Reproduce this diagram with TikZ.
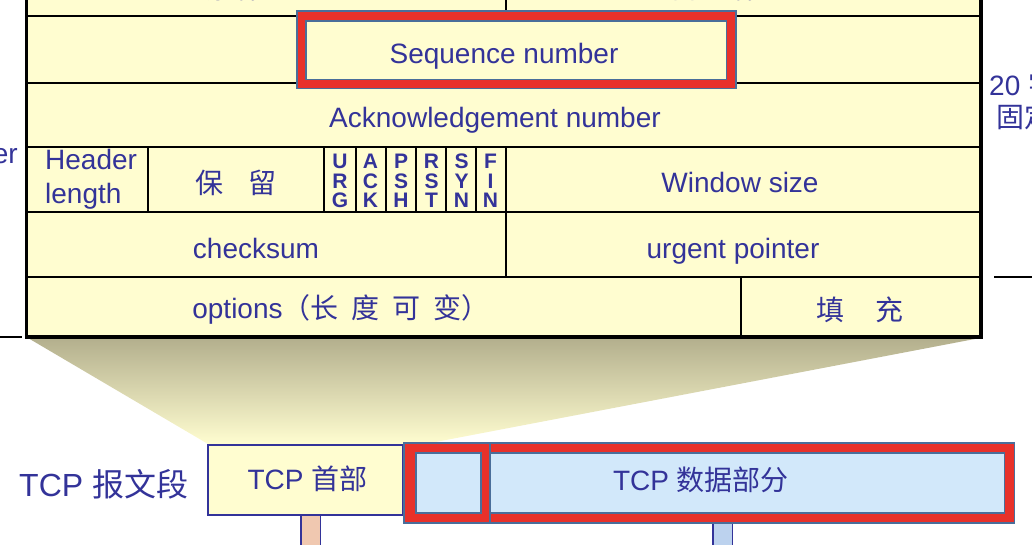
\documentclass[tikz,border=0pt]{standalone}
\usepackage{fontspec}
\setmainfont{Liberation Sans}
\newfontfamily\cjk{Noto Sans CJK SC}
\definecolor{navy}{HTML}{333399}
\definecolor{tblfill}{HTML}{FFFDD0}
\definecolor{redf}{HTML}{E8312A}
\definecolor{steel}{HTML}{4A6E9A}
\definecolor{lblue}{HTML}{D2E8FA}
\definecolor{pinkbar}{HTML}{F0C8B0}
\definecolor{bluebar}{HTML}{BCD2EE}
\definecolor{shadetop}{HTML}{B3AF8D}
\definecolor{shademid}{HTML}{E4E2BD}
\begin{document}
\begin{tikzpicture}[x=1pt,y=-1pt,
  lbl/.style={text=navy, inner sep=0pt, font=\fontsize{28}{34}\selectfont},
  biglbl/.style={text=navy, inner sep=0pt, font=\fontsize{32}{38}\selectfont},
  flagtxt/.style={text=navy, inner sep=0pt, align=center, font=\bfseries\fontsize{21}{19.5}\selectfont},
  gridline/.style={line width=2pt, black},
  frameline/.style={line width=3.6pt, black},
  barbox/.style={draw=navy, line width=1.3pt}]
\useasboundingbox (0,0) rectangle (1032,544);
% funnel shading
\shade[top color=shadetop, middle color=shademid, bottom color=tblfill]
  (28,338) -- (980,338) -- (425,444) -- (208,444) -- cycle;
% table body
\fill[tblfill] (26,-5) rectangle (981,337);
\foreach \yy in {16,83,147,212,277} \draw[gridline] (26,\yy) -- (981,\yy);
\draw[gridline] (506,-5) -- (506,16);
\draw[gridline] (148,147) -- (148,212);
\foreach \xx in {324,356,386,416,446,476,506} \draw[gridline] (\xx,147) -- (\xx,212);
\draw[gridline] (506,212) -- (506,277);
\draw[gridline] (741,277) -- (741,337);
\draw[frameline] (26.5,-5) -- (26.5,337) -- (981,337) -- (981,-5);
% side lines
\draw[gridline] (0,337) -- (22,337);
\draw[gridline] (994,277) -- (1032,277);
% sequence number highlight frame
\fill[steel] (296,10) rectangle (736.5,89);
\fill[redf] (297.5,11.5) rectangle (735,87.5);
\fill[steel] (305,20) rectangle (727,80);
\fill[tblfill] (306.5,21.5) rectangle (725.5,78.5);
% cut-off texts at the top
\node[lbl, anchor=base] (src) at (243,-1.5) {\cjk 源端口};
\node[lbl, anchor=base] (dst) at (726,-1.5) {\cjk 目的端口};
% table texts
\node[lbl, anchor=base] (seq) at (504,63) {Sequence number};
\node[lbl, anchor=base] (ack) at (495,127) {Acknowledgement number};
\node[lbl, anchor=base west] (hl1) at (45,169) {Header};
\node[lbl, anchor=base west] (hl2) at (45,203) {length};
\node[lbl, anchor=center] (rsv) at (236,183) {\cjk 保\hspace{25pt}留};
\node[flagtxt] (urg) at (340,181) {U\\R\\G};
\node[flagtxt] (fack) at (370.5,181) {A\\C\\K};
\node[flagtxt] (psh) at (401,181) {P\\S\\H};
\node[flagtxt] (rst) at (431.5,181) {R\\S\\T};
\node[flagtxt] (syn) at (461.5,181) {S\\Y\\N};
\node[flagtxt] (fin) at (490.5,181) {F\\I\\N};
\node[lbl, anchor=base] (win) at (740,192) {Window size};
\node[lbl, anchor=base] (chk) at (256,258) {checksum};
\node[lbl, anchor=base] (urgp) at (733,258) {urgent pointer};
\node[lbl, anchor=base] (opt) at (341,318) {options{\cjk （长\hspace{13pt}度\hspace{13pt}可\hspace{13pt}变）}};
\node[lbl, anchor=center] (pad) at (860,310) {\cjk 填\hspace{31pt}充};
% side labels
\node[lbl, anchor=base east] (hdrlbl) at (18,163) {header};
\node[lbl, anchor=base west] (twenty) at (989,95) {20 {\cjk 字节}};
\node[lbl, anchor=base west] (fixed) at (996,127) {\cjk 固定首部};
% stems below segment
\draw[barbox, fill=pinkbar] (301,515) rectangle (320.5,550);
\draw[barbox, fill=bluebar] (713,523) rectangle (732.5,550);
% TCP segment
\node[draw=navy, line width=2pt, fill=tblfill, minimum width=195pt, minimum height=70pt, inner sep=0pt] (hdrbox) at (305.5,480) {};
\node[lbl, anchor=base] (hdrtxt) at (307.5,489) {TCP {\cjk 首部}};
\fill[steel] (403,442) rectangle (1015,523.5);
\fill[redf] (404.5,443.5) rectangle (1013.5,522);
\draw[steel, line width=1.8pt, fill=lblue] (416,453) rectangle (481,513);
\draw[steel, line width=1.8pt, fill=lblue] (489.8,453) rectangle (1004.5,513);
\draw[steel, line width=1.8pt] (489.8,443) -- (489.8,522);
\node[lbl, anchor=base] (datatxt) at (701,490) {TCP {\cjk 数据部分}};
\node[biglbl, anchor=base west] (seglbl) at (19,496) {TCP {\cjk 报文段}};
\end{tikzpicture}
\end{document}
